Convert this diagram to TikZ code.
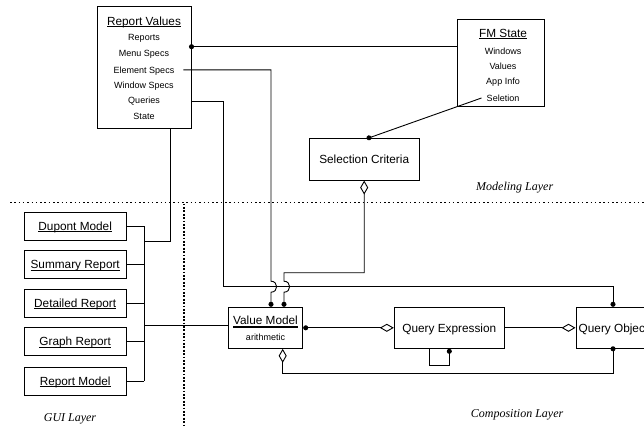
\documentclass[tikz,border=0pt]{standalone}
\usepackage{fontspec}
\setmainfont{Liberation Sans}
\newfontfamily\layerfamily{Liberation Serif}
\usetikzlibrary{arrows.meta,calc}
% underlined titles: a rule at a fixed depth below the baseline
\newcommand\ulin[1]{\setbox0\hbox{#1}\rlap{\rule[-1.7pt]{\wd0}{0.75pt}}\box0}
\newcommand\ulthick[1]{\setbox0\hbox{#1}\rlap{\rule[-2.6pt]{\wd0}{1.8pt}}\box0}
\tikzset{
  aggd/.tip={Diamond[open,length=14pt,width=8pt,line width=0.9pt]},
  dott/.tip={Circle[length=5pt]},
}
\begin{document}
\begin{tikzpicture}[x=1pt,y=-1pt,
  box/.style={draw, line width=1pt, inner sep=0pt, rectangle},
  ttl/.style={inner sep=0pt, anchor=base, font=\fontsize{11.8}{13}\selectfont},
  itm/.style={inner sep=0pt, anchor=base, font=\fontsize{9}{10}\selectfont},
  layer/.style={inner sep=0pt, anchor=base, font=\fontsize{12}{14}\layerfamily\itshape},
  link/.style={line width=0.9pt},
  hdots/.style={line width=0.8pt, dash pattern=on 1.5pt off 2.8pt},
  vdots/.style={line width=1.7pt, dash pattern=on 1.8pt off 1.6pt},
]
\useasboundingbox (0,0) rectangle (644,425);
\clip (0,0) rectangle (644,425);

% layer separators
\draw[hdots] (10,202.5) -- (644,202.5);
\draw[vdots] (184.3,203.5) -- (184.3,425);

% layer labels
\node[layer, anchor=base west] (lblModel) at (476,190) {Modeling Layer};
\node[layer, anchor=base west] (lblComp) at (470.7,417.5) {Composition Layer};
\node[layer] (lblGui) at (70,421.5) {GUI Layer};

% Report Values
\node[box, minimum width=94pt, minimum height=121pt] (rv) at (144,67.5) {};
\node[ttl] (rvTitle) at (144,25.2) {\ulin{Report Values}};
\node[itm] (rvReports) at (144,40.9) {Reports};
\node[itm] (rvMenu) at (144,56.9) {Menu Specs};
\node[itm] (rvElem) at (144,73.2) {Element Specs};
\node[itm] (rvWin) at (144,88.2) {Window Specs};
\node[itm] (rvQueries) at (144,103.9) {Queries};
\node[itm] (rvState) at (144,119.9) {State};

% FM State
\node[box, minimum width=86.3pt, minimum height=87.7pt] (fm) at (500.9,62.9) {};
\node[ttl] (fmTitle) at (503,37.5) {\ulin{FM State}};
\node[itm] (fmWin) at (503,54.9) {Windows};
\node[itm] (fmVal) at (503,69.2) {Values};
\node[itm] (fmApp) at (503,84.9) {App Info};
\node[itm] (fmSel) at (503,101.2) {Seletion};

% Selection Criteria
\node[box, minimum width=110.3pt, minimum height=41.7pt] (sel) at (364.2,159.2) {};
\node[ttl] (selText) at (364.2,163.4) {Selection Criteria};

% GUI layer classes
\foreach \nm/\yy/\txt in {gDupont/226.2/Dupont Model, gSummary/264.7/Summary Report,
    gDetail/303.3/Detailed Report, gGraph/341.7/Graph Report, gReport/381.2/Report Model}{
  \node[box, minimum width=101.7pt, minimum height=28pt] (\nm) at (75.2,\yy) {};
  \node[ttl] (\nm Text) at (75.2,\yy+4.2) {\ulin{\txt}};
}

% Composition layer classes
\node[box, minimum width=74.4pt, minimum height=41pt] (vm) at (265.5,327.8) {};
\node[ttl] (vmTitle) at (265.5,324.9) {\ulthick{Value Model}};
\node[itm] (vmArith) at (265.5,340.9) {arithmetic};
\node[box, minimum width=110pt, minimum height=41pt] (qe) at (449.3,327.8) {};
\node[ttl] (qeText) at (449.3,332) {Query Expression};
\node[box, minimum width=74pt, minimum height=41pt] (qo) at (613,327.8) {};
\node[ttl, anchor=base west] (qoText) at (578.5,332) {Query Object};

% Report Values -- FM State
\draw[link, dott-, shorten <=-2.5pt] (rv.east |- 0,46.7) -- (fm.west |- 0,46.7);

% FM State selection -- Selection Criteria
\draw[link, -dott, shorten >=-2.5pt] ([xshift=-5pt]fmSel.west) -- ([xshift=4.8pt]sel.north);

% Element Specs -- Value Model (hops over the query line)
\draw[link, -dott] ([xshift=9pt,yshift=1pt]rvElem.east) -| (271,281.2)
  .. controls (278.5,281.2) and (278.5,292.2) .. (271,292.2) -- ([xshift=5.5pt]vm.north);

% Selection Criteria -- Value Model
\draw[link, aggd-dott] (sel.south) |- (284,272.7) -- (284,281.2)
  .. controls (291.5,281.2) and (291.5,292.2) .. (284,292.2) -- ([xshift=18.5pt]vm.north);

% Queries -- Query Object
\draw[link, -dott] (rv.east |- rvQueries) -| (223.3,286.7) -| (qo.north);

% Report Values -- GUI bus
\coordinate (bus) at (144,0);
\draw[link] ([xshift=26pt]rv.south) |- (bus |- 0,241);
\foreach \nm in {gDupont,gSummary,gDetail,gGraph,gReport}{
  \draw[link] (\nm.east) -- (\nm.east -| bus);
}
\draw[link] (gDupont.east -| bus) -- (gReport.east -| bus);
\coordinate (busOut) at (144,325);
\draw[link] (busOut) -- (busOut -| vm.west);

% Composition links
\draw[link, dott-aggd] (vm.east) -- (qe.west);
\draw[link, -aggd] (qe.east) -- (qo.west);
\draw[link, dott-] (qe.south) -- ++(0,17) -| ([xshift=-20pt]qe.south);
\draw[link, aggd-dott, shorten >=-2.5pt] ([xshift=17.2pt]vm.south) -- ++(0,25) -| (qo.south);
\end{tikzpicture}
\end{document}
